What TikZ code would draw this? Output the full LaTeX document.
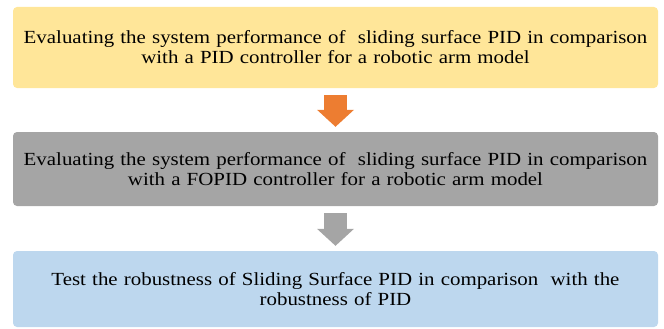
\documentclass[tikz,border=0pt]{standalone}
\usepackage{fontspec}
\setmainfont{Liberation Serif}[FakeStretch=1.13]
\usetikzlibrary{arrows.meta}

\definecolor{boxyellow}{HTML}{FFE699}
\definecolor{boxgray}{HTML}{A5A5A5}
\definecolor{boxblue}{HTML}{BDD7EE}
\definecolor{arroworange}{HTML}{ED7D31}
\definecolor{arrowgray}{HTML}{A5A5A5}

\tikzset{
  stagebox/.style={shape=rectangle, rounded corners=4pt, draw=none,
    minimum width=645pt, text width=640pt, align=center, inner sep=0pt,
    font=\fontsize{18.5}{20}\selectfont},
  flowarrow/.style={color=#1, line width=23pt,
    -{Triangle[width=37pt, length=17pt, line width=0pt, fill=#1]},
    shorten <=7pt, shorten >=5pt}
}

\begin{document}
\begin{tikzpicture}[x=1pt,y=-1pt]

\useasboundingbox (0,0) rectangle (664,329);

\node[stagebox, fill=boxyellow, minimum height=81pt] (E1) at (335.5,47.5)
  {Evaluating the system performance of\ \ sliding surface PID in comparison\\
   with a PID controller for a robotic arm model};
\node[stagebox, fill=boxgray, minimum height=74pt] (E2) at (335.5,169)
  {Evaluating the system performance of\ \ sliding surface PID in comparison\\
   with a FOPID controller for a robotic arm model};
\node[stagebox, fill=boxblue, minimum height=76pt] (T) at (335.5,289)
  {Test the robustness of Sliding Surface PID in comparison\ \ with the\\
   robustness of PID};

\path [flowarrow=arroworange] (E1) edge (E2);
\path [flowarrow=arrowgray] (E2) edge (T);

\end{tikzpicture}
\end{document}
